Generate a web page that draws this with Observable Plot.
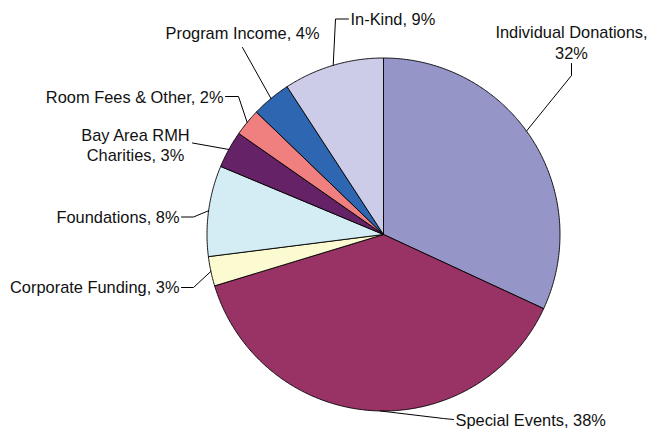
<!DOCTYPE html>
<html><head><meta charset="utf-8">
<script src="https://cdn.jsdelivr.net/npm/d3@7"></script>
<script src="https://cdn.jsdelivr.net/npm/@observablehq/plot@0.6"></script>
<style>body{margin:0;background:#fff}</style>
</head><body><div id="chart"></div>
<script>
// ---- data ----
const categories = ["Individual Donations","Special Events","Corporate Funding","Foundations","Bay Area RMH Charities","Room Fees & Other","Program Income","In-Kind"];
const values = [31.9, 38.4, 2.7, 8.3, 3.4, 2.5, 3.6, 9.2];
const percentLabels = ["32%","38%","3%","8%","3%","2%","4%","9%"];
const colors = ["#9595c8","#993366","#fbfad0","#d4edf4","#662266","#f08080","#2e66b2","#cccce8"];

// ---- layout (pixels) ----
const W = 647, H = 430, CX = 383, CY = 234, R = 176.5;
const labelLayout = {
  "Individual Donations":   {text:"Individual Donations,\n32%", anchor:"middle", tx:571, ty:41, lh:1.3, angleShift:-3.3, path:[[571,75],[571,63]]},
  "Special Events":         {text:"Special Events, 38%", anchor:"start", tx:455, ty:420, lh:1, angleShift:-3, path:[[443,418],[453,419]]},
  "Corporate Funding":      {text:"Corporate Funding, 3%", anchor:"end", tx:179, ty:287, lh:1, angleShift:0, path:[[193,287],[181,287]]},
  "Foundations":            {text:"Foundations, 8%", anchor:"end", tx:179, ty:217, lh:1, angleShift:0, path:[[193,216.5],[181,216.5]]},
  "Bay Area RMH Charities": {text:"Bay Area RMH\nCharities, 3%", anchor:"middle", tx:135, ty:144, lh:1.22, angleShift:0, path:[[192,142.5]]},
  "Room Fees & Other":      {text:"Room Fees & Other, 2%", anchor:"end", tx:223, ty:97.5, lh:1, angleShift:0, path:[[238,96],[225,96]]},
  "Program Income":         {text:"Program Income, 4%", anchor:"middle", tx:242, ty:33, lh:1, angleShift:0, path:[[242,47]]},
  "In-Kind":                {text:"In-Kind, 9%", anchor:"start", tx:350, ty:19.5, lh:1, angleShift:0, path:[[335,18.5],[348,18.5]]}
};

const toData = ([px, py]) => [(px - CX) / R, (CY - py) / R];
const total = d3.sum(values);

// slice polygons
const slices = [];
const mids = [];
let acc = 0;
categories.forEach((c, i) => {
  const a0 = acc / total * 2 * Math.PI;
  acc += values[i];
  const a1 = acc / total * 2 * Math.PI;
  mids.push((a0 + a1) / 2);
  slices.push({cat: c, x: 0, y: 0});
  const n = Math.max(4, Math.ceil((a1 - a0) / (Math.PI / 360)));
  for (let k = 0; k <= n; k++) {
    const a = a0 + (a1 - a0) * k / n;
    slices.push({cat: c, x: Math.sin(a), y: Math.cos(a)});
  }
  slices.push({cat: c, x: 0, y: 0});
});

// leaders and labels
const leaders = [];
const labels = [];
categories.forEach((c, i) => {
  const L = labelLayout[c];
  const a = mids[i] + L.angleShift * Math.PI / 180;
  leaders.push({cat: c, x: Math.sin(a), y: Math.cos(a)});
  L.path.forEach(p => { const [x, y] = toData(p); leaders.push({cat: c, x, y}); });
  const [x, y] = toData([L.tx, L.ty]);
  labels.push({cat: c, text: L.text, x, y, anchor: L.anchor, lh: L.lh});
});

const textMarks = labels.map(d => Plot.text([d], {
  x: "x", y: "y", text: "text", textAnchor: d.anchor, lineHeight: d.lh,
  fill: "#111", fontSize: 16.4
}));

const chart = Plot.plot({
  width: W, height: H,
  margin: 0,
  style: {fontFamily: "'Liberation Sans', Arial, Helvetica, sans-serif", background: "#fff"},
  x: {domain: [-1, 1], range: [CX - R, CX + R], axis: null},
  y: {domain: [-1, 1], range: [CY + R, CY - R], axis: null},
  color: {domain: categories, range: colors},
  marks: [
    Plot.line(slices, {x: "x", y: "y", z: "cat", fill: "cat", stroke: "#000", strokeWidth: 0.9, strokeLinejoin: "round"}),
    Plot.line(leaders, {x: "x", y: "y", z: "cat", stroke: "#000", strokeWidth: 1}),
    ...textMarks
  ]
});
document.getElementById("chart").appendChild(chart);
</script>
</body></html>
